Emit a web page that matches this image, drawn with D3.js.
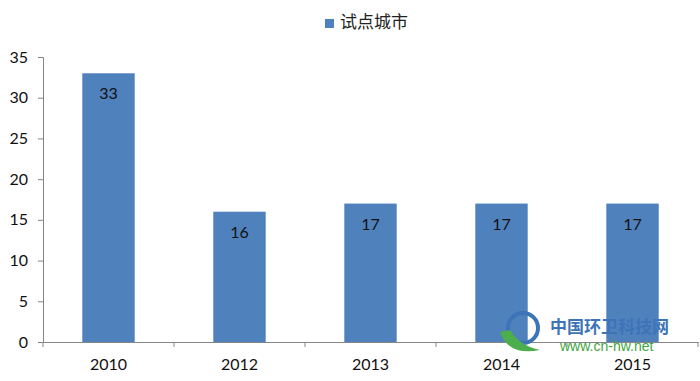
<!DOCTYPE html>
<html lang="zh">
<head>
<meta charset="UTF-8">
<title>试点城市</title>
<script src="https://cdn.jsdelivr.net/npm/d3@7"></script>
<style>
  body {margin: 0; background: #fff; overflow: hidden;}
  svg text {font-family: Lato, "Open Sans", sans-serif;}
</style>
</head>
<body>
<svg id="chart" width="700" height="381"></svg>
<script>
var years = ['2010', '2012', '2013', '2014', '2015'];
var cities = [33, 16, 17, 17, 17];
var yTicks = [0, 5, 10, 15, 20, 25, 30, 35];
var seriesName = '试点城市';

var width = 700, height = 381;
var margin = {top: 57, right: 2, bottom: 39, left: 43};
var svg = d3.select('#chart');

var x = d3.scaleBand().domain(years).range([margin.left, width - margin.right]).paddingInner(0.6).paddingOuter(0.3);
var y = d3.scaleLinear().domain([0, 35]).range([height - margin.bottom, margin.top]);

// bars
svg.append('g').selectAll('rect')
    .data(cities)
    .enter()
    .append('rect')
    .attr('x', function(d, i) { return x(years[i]); })
    .attr('y', function(d) { return y(d); })
    .attr('width', x.bandwidth())
    .attr('height', function(d) { return y(0) - y(d); })
    .attr('fill', '#4f81bd');

// value labels
svg.append('g').selectAll('text')
    .data(cities)
    .enter()
    .append('text')
    .attr('x', function(d, i) { return x(years[i]) + x.bandwidth() / 2; })
    .attr('y', function(d) { return y(d) + 26; })
    .attr('text-anchor', 'middle')
    .attr('font-size', 16)
    .attr('fill', '#111')
    .text(function(d) { return d; });

// y axis
var yAxis = svg.append('g')
    .attr('transform', 'translate(' + margin.left + ',0)')
    .call(d3.axisLeft(y).tickValues(yTicks).tickSize(5).tickPadding(10));
yAxis.selectAll('text').attr('font-size', 16).attr('fill', '#111').style('font-family', 'Lato, "Open Sans", sans-serif');

// x axis, tick marks sit on the band edges
var xAxis = svg.append('g')
    .attr('transform', 'translate(0,' + y(0) + ')')
    .call(d3.axisBottom(x).tickSize(0).tickPadding(17));
xAxis.selectAll('text').attr('font-size', 16).attr('fill', '#111').style('font-family', 'Lato, "Open Sans", sans-serif');
var bandW = (width - margin.right - margin.left) / years.length;
xAxis.selectAll('.edge')
    .data(years.concat(['end']))
    .enter()
    .append('line')
    .attr('class', 'edge')
    .attr('x1', function(d, i) { return margin.left + i * bandW; })
    .attr('x2', function(d, i) { return margin.left + i * bandW; })
    .attr('y1', 0)
    .attr('y2', 5)
    .attr('stroke', '#868686');

svg.selectAll('.domain').attr('stroke', '#868686');
svg.selectAll('.tick line').attr('stroke', '#868686');

// legend
var legend = svg.append('g').attr('transform', 'translate(325,19)');
legend.append('rect').attr('width', 9).attr('height', 9).attr('fill', '#4f81bd');
legend.append('text')
    .attr('x', 15).attr('y', 9)
    .attr('font-size', 17)
    .attr('fill', '#222')
    .style('font-family', '"Noto Sans CJK SC", sans-serif')
    .text(seriesName);

// watermark
var wm = svg.append('g').attr('transform', 'translate(498,310)');
wm.append('circle').attr('cx', 25).attr('cy', 18).attr('r', 15).attr('fill', 'none').attr('stroke', '#3d74b8').attr('stroke-width', 4);
wm.append('path').attr('d', 'M2,22 Q10,46 42,40 Q22,36 12,20 Z').attr('fill', '#4cae4c');
wm.append('text').attr('x', 52).attr('y', 23)
    .attr('font-size', 17).attr('font-weight', 'bold').attr('fill', '#3d74b8')
    .style('font-family', '"Noto Sans CJK SC", sans-serif')
    .text('中国环卫科技网');
wm.append('text').attr('x', 62).attr('y', 41)
    .attr('font-size', 14).attr('fill', '#3fa63f')
    .style('font-family', '"Liberation Sans", sans-serif')
    .text('www.cn-hw.net');
</script>
</body>
</html>
